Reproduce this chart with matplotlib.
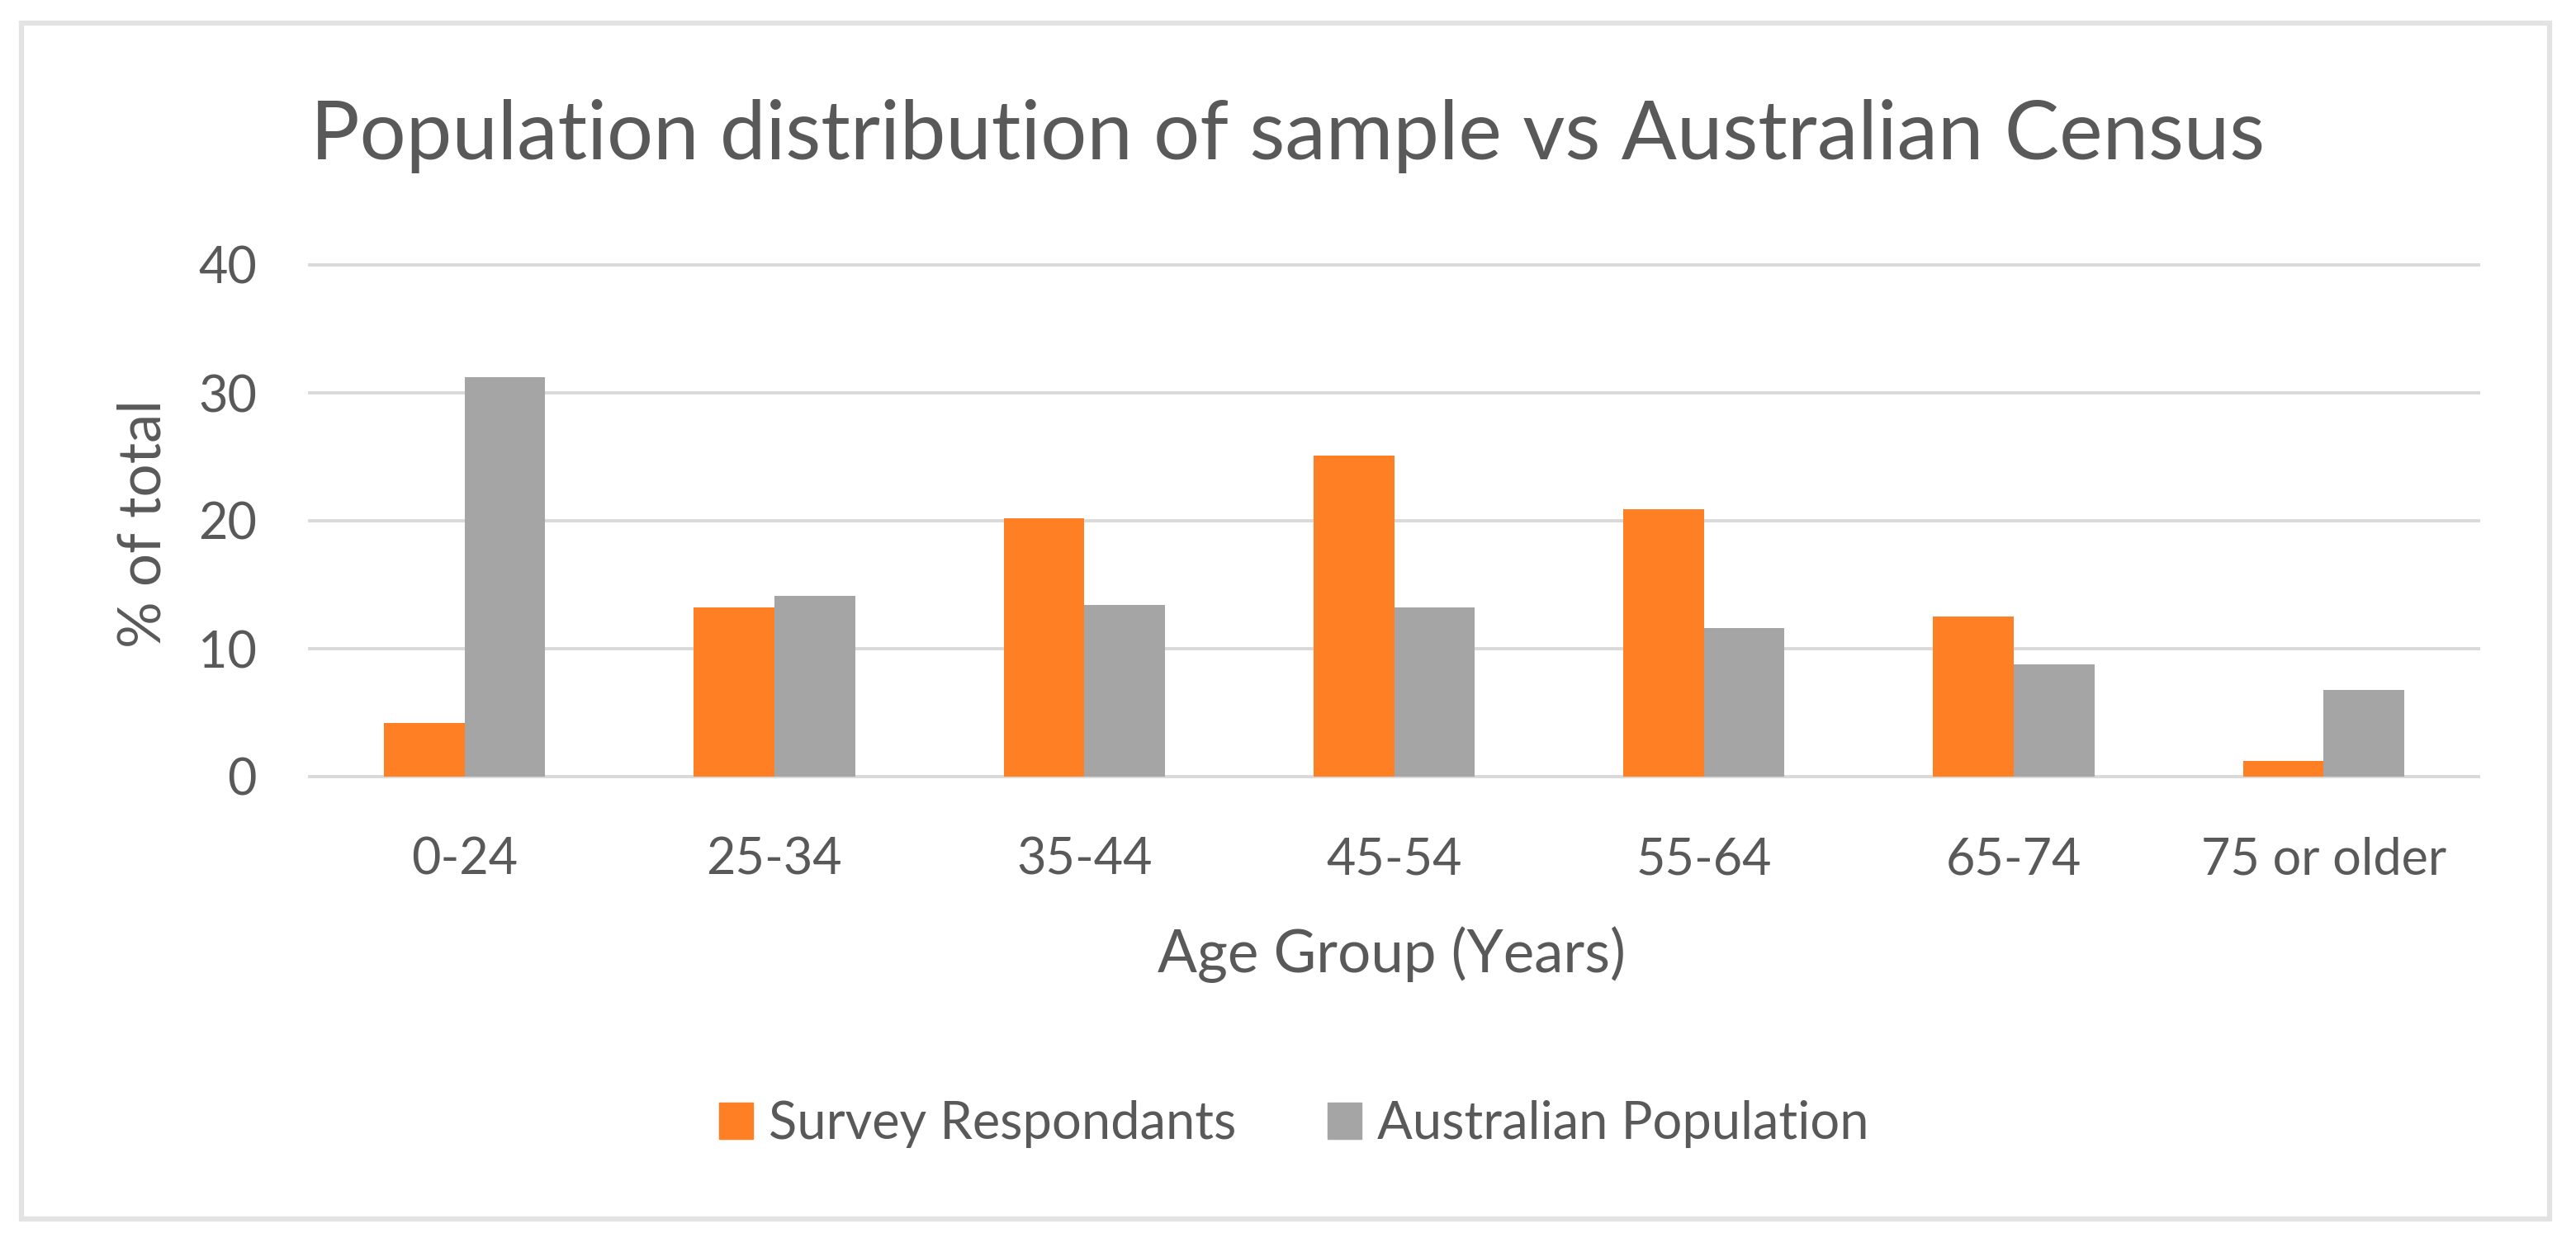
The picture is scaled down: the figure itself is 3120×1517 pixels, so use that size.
import numpy as np
import matplotlib
matplotlib.use('Agg')
import matplotlib.pyplot as plt
from matplotlib.patches import Rectangle, Patch

# data
age_groups = ['0-24', '25-34', '35-44', '45-54', '55-64', '65-74', '75 or older']
survey = [4.2, 13.2, 20.2, 25.1, 20.9, 12.5, 1.2]
census = [31.2, 14.1, 13.4, 13.2, 11.6, 8.8, 6.8]
series_names = ['Survey Respondants', 'Australian Population']
yticks = [0, 10, 20, 30, 40]

ORANGE = '#FF7F24'
GREY = '#A5A5A5'
TEXT = '#595959'
GRID = '#D9D9D9'

plt.rcParams['font.family'] = ['Lato', 'DejaVu Sans']

W, H = 3120, 1517
fig = plt.figure(figsize=(W / 100, H / 100), dpi=100)

# light frame around the chart area like the Excel export
fig.patches.append(Rectangle((26 / W, 1 - 1477 / H), (3088 - 26) / W, (1477 - 28) / H,
                             transform=fig.transFigure, fill=False,
                             edgecolor='#E3E3E3', linewidth=4.5))

ax = fig.add_axes([375 / W, 1 - 941 / H, (3002 - 375) / W, (941 - 321) / H])
x = np.arange(len(age_groups))
w = 0.26
ax.bar(x - w / 2, survey, w, color=ORANGE, zorder=3)
ax.bar(x + w / 2, census, w, color=GREY, zorder=3)

ax.set_xlim(-0.5, len(age_groups) - 0.5)
ax.set_ylim(0, 40)
ax.set_yticks(yticks)
ax.set_xticks(x)
ax.set_xticklabels(age_groups)
ax.tick_params(axis='both', length=0, labelsize=44, colors=TEXT)
ax.tick_params(axis='x', pad=52)
ax.tick_params(axis='y', pad=46)
ax.grid(axis='y', color=GRID, linewidth=2.8, zorder=0)
for gl in ax.get_ygridlines():
    gl.set_clip_on(False)
for s in ax.spines.values():
    s.set_visible(False)

fig.text(0.5, 1 - 193 / H, 'Population distribution of sample vs Australian Census',
         ha='center', va='baseline', fontsize=71.5, color=TEXT)
fig.text(1686 / W, 1 - 1178 / H, 'Age Group (Years)', ha='center', va='baseline',
         fontsize=51, color=TEXT)
fig.text(174 / W, 1 - 635 / H, '% of total', ha='center', va='center', rotation=90,
         fontsize=51, color=TEXT)

handles = [Patch(color=ORANGE), Patch(color=GREY)]
fig.legend(handles, series_names, loc='center', bbox_to_anchor=(1567 / W, 1 - 1362 / H),
           ncol=2, frameon=False, fontsize=45.5, labelcolor=TEXT,
           handlelength=0.65, handleheight=0.68, handletextpad=0.3, columnspacing=1.75)

fig.savefig('out.png', dpi=100, facecolor='white')
